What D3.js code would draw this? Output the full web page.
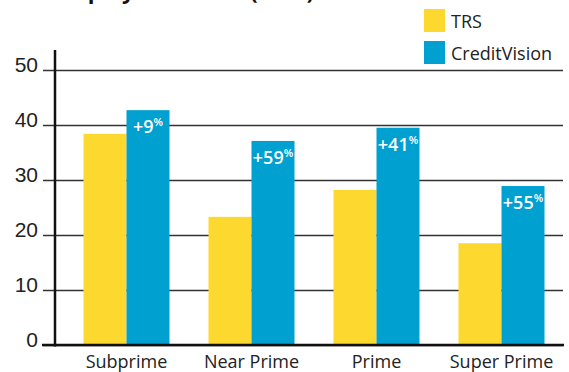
<!DOCTYPE html>
<html>
<head>
<meta charset="utf-8">
<script src="https://cdn.jsdelivr.net/npm/d3@7"></script>
<style>
  body { margin: 0; background: #fff; }
  svg { display: block; font-family: "Open Sans", "Noto Sans", sans-serif; }
</style>
</head>
<body>
<svg id="chart" width="569" height="372"></svg>
<script>
// ---- Data ----
const categories = ["Subprime", "Near Prime", "Prime", "Super Prime"];
const series = ["TRS", "CreditVision"];
const trsValues = [38.4, 23.3, 28.2, 18.5];
const cvValues = [42.7, 37.1, 39.5, 28.9];
const liftLabels = ["+9", "+59", "+41", "+55"];
const yTicks = [0, 10, 20, 30, 40, 50];

const colors = { "TRS": "#fdd82e", "CreditVision": "#00a0d0" };

const svg = d3.select("#chart");

// ---- Scales ----
const y = d3.scaleLinear().domain([0, 50]).range([345, 70]);
const x0 = d3.scaleBand()
    .domain(categories)
    .range([64, 564])
    .paddingInner(0.312)
    .paddingOuter(0.156);
const x1 = d3.scaleBand()
    .domain(series)
    .range([0, x0.bandwidth()]);

// title runs off the top of the picture, only descenders show
svg.append("text")
    .attr("x", 22)
    .attr("y", -1)
    .attr("font-size", 22)
    .attr("font-weight", "bold")
    .attr("fill", "#111")
    .text("Unemployment rate (000s)");

// ---- Gridlines ----
const yAxis = d3.axisLeft(y)
    .tickValues(yTicks)
    .tickSize(-(563 - 43))
    .tickPadding(0);
const gy = svg.append("g")
    .attr("transform", "translate(43,0)")
    .call(yAxis);
gy.select(".domain").remove();
gy.selectAll(".tick line")
    .attr("stroke", "#333")
    .attr("stroke-width", 1.6);
gy.selectAll(".tick text")
    .attr("x", -5)
    .attr("dy", "0.05em")
    .attr("font-size", 21)
    .attr("fill", "#222");

// ---- Bars ----
const rows = categories.map((c, i) => ({
    cat: c,
    vals: [
        { key: "TRS", value: trsValues[i] },
        { key: "CreditVision", value: cvValues[i], label: liftLabels[i] }
    ]
}));

const groups = svg.append("g")
    .selectAll("g")
    .data(rows)
    .join("g")
    .attr("transform", d => `translate(${x0(d.cat)},0)`);

groups.selectAll("rect")
    .data(d => d.vals)
    .join("rect")
    .attr("x", d => x1(d.key))
    .attr("y", d => y(d.value))
    .attr("width", x1.bandwidth())
    .attr("height", d => y(0) - y(d.value))
    .attr("fill", d => colors[d.key]);

// lift labels on the CreditVision bars
const lbl = groups.append("text")
    .attr("x", d => x1("CreditVision") + x1.bandwidth() / 2)
    .attr("y", d => y(d.vals[1].value) + 23)
    .attr("text-anchor", "middle")
    .attr("fill", "#fff")
    .attr("font-weight", 600)
    .attr("font-size", 18);
lbl.append("tspan").text(d => d.vals[1].label);
lbl.append("tspan")
    .attr("font-size", 11)
    .attr("dy", -7)
    .text("%");

// ---- Axes lines ----
svg.append("line")
    .attr("x1", 55).attr("x2", 55)
    .attr("y1", 50).attr("y2", 346.5)
    .attr("stroke", "#111").attr("stroke-width", 2.5);
svg.append("line")
    .attr("x1", 42).attr("x2", 564)
    .attr("y1", y(0)).attr("y2", y(0))
    .attr("stroke", "#111").attr("stroke-width", 2.5);

// category labels
svg.append("g")
    .selectAll("text")
    .data(categories)
    .join("text")
    .attr("x", d => x0(d) + x0.bandwidth() / 2)
    .attr("y", 368)
    .attr("text-anchor", "middle")
    .attr("font-size", 18)
    .attr("fill", "#222")
    .text(d => d);

// ---- Legend ----
const legend = svg.append("g")
    .selectAll("g")
    .data(series)
    .join("g")
    .attr("transform", (d, i) => `translate(424,${9 + i * 32})`);
legend.append("rect")
    .attr("width", 21)
    .attr("height", 23)
    .attr("fill", d => colors[d]);
legend.append("text")
    .attr("x", 27)
    .attr("y", 19)
    .attr("font-size", 18)
    .attr("fill", "#222")
    .text(d => d);
</script>
</body>
</html>
